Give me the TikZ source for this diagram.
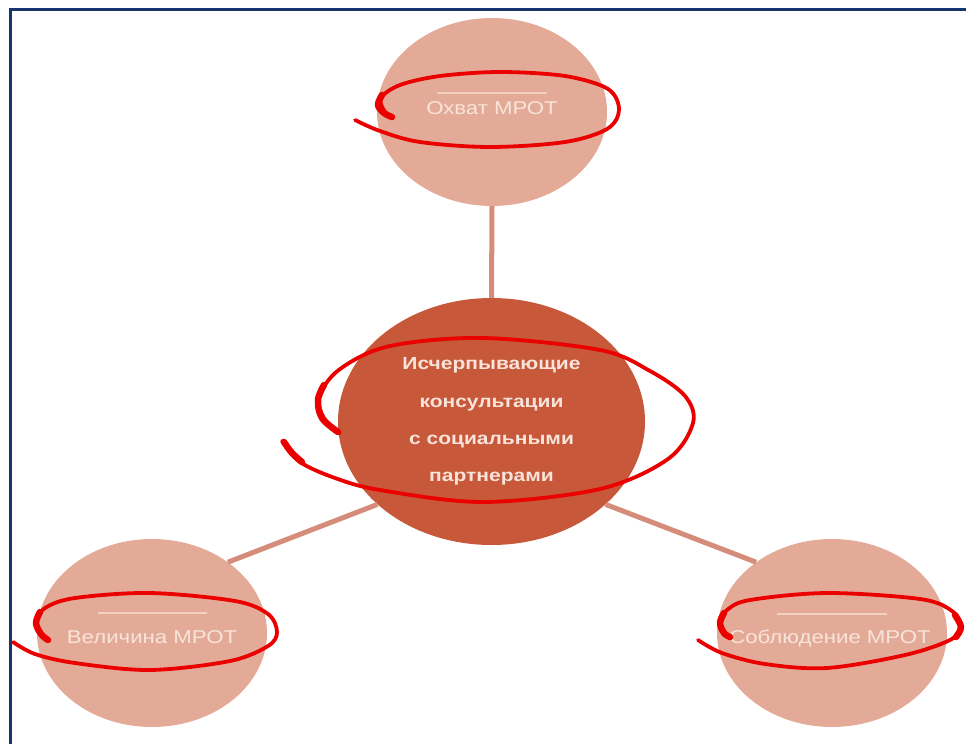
\documentclass[tikz,border=0pt]{standalone}
\usepackage{fontspec}
\setmainfont{Liberation Sans}
\usetikzlibrary{shapes.geometric}
\definecolor{outerfill}{RGB}{228,170,152}
\definecolor{centerfill}{RGB}{200,88,58}
\definecolor{connc}{RGB}{214,140,122}
\definecolor{frameblue}{RGB}{24,52,112}
\definecolor{txtlight}{RGB}{248,228,218}
\definecolor{sepc}{RGB}{242,208,194}
\definecolor{markred}{RGB}{235,0,0}
\newcommand{\widetxt}[1]{\scalebox{1.2}[1]{#1}}
\begin{document}
\begin{tikzpicture}[x=1pt,y=-1pt,
  outer/.style={ellipse, fill=outerfill, minimum width=230pt, minimum height=188pt, inner sep=0pt},
  hub/.style={ellipse, fill=centerfill, minimum width=307pt, minimum height=247pt, inner sep=0pt,
    text=txtlight, font=\fontsize{17.5}{37.3}\selectfont\bfseries, align=center},
  otext/.style={text=txtlight, font=\fontsize{18.5}{22}\selectfont, inner sep=0pt, anchor=base},
  conn/.style={draw=connc, line width=5pt},
  sepline/.style={draw=sepc, line width=1.5pt},
  redmark/.style={draw=markred, line width=3.8pt, line cap=round, line join=round},
  redhook/.style={draw=markred, line width=6.5pt, line cap=round, line join=round}
]
\useasboundingbox (0,0) rectangle (966,744);
\fill[white] (0,0) rectangle (966,744);
\draw[frameblue, line width=3pt] (10.5,744) -- (10.5,9) -- (966,9);

\node[outer] (t) at (492,112) {};
\node[outer] (l) at (152,633) {};
\node[outer] (r) at (832,633) {};
\node[hub] (c) at (491.5,421.5) {\widetxt{Исчерпывающие}\\ \widetxt{консультации}\\ \widetxt{с социальными}\\ \widetxt{партнерами}};

\draw[conn] (t.south) -- (c.north);
\draw[conn] (c.216) -- (l.43);
\draw[conn] (c.324) -- (r.137);

\draw[sepline] (437,93) -- (547,93);
\draw[sepline] (98,613) -- (207,613);
\draw[sepline] (777,614) -- (887,614);

\node[otext] (tt) at (492,114.5) {\widetxt{Охват МРОТ}};
\node[otext] (lt) at (152,643.5) {\widetxt{Величина МРОТ}};
\node[otext] (rt) at (830,643.5) {\widetxt{Соблюдение МРОТ}};

% top
\draw[redmark] plot[smooth, tension=0.55] coordinates {(355,120) (380,131) (420,142) (490,147) (565,142) (607,129) (619,110) (608,89) (565,76) (500,72) (440,76) (400,85) (381,98) (385,112) (393,117)};
\draw[redhook] plot[smooth, tension=0.6] coordinates {(382,95) (378,105) (384,113) (392,117)};
% centre
\draw[redmark] plot[smooth, tension=0.55] coordinates {(282,441) (300,462) (335,478) (380,490) (483,502) (600,489) (668,459) (693,423) (685,396) (650,371) (600,350) (483,338) (390,346) (340,369) (319,397) (325,420) (340,433)};
\draw[redhook] plot[smooth, tension=0.6] coordinates {(324,385) (318,400) (322,418) (338,432)};
\draw[redhook] plot[smooth, tension=0.6] coordinates {(284,442) (292,453) (302,462)};
% left
\draw[redmark] plot[smooth, tension=0.55] coordinates {(13,642) (35,654) (75,663) (150,670) (230,661) (268,646) (277,632) (268,614) (235,601) (150,593) (75,598) (45,608) (36,622) (41,634) (48,640)};
\draw[redhook] plot[smooth, tension=0.6] coordinates {(40,612) (36,623) (41,634) (48,640)};
% right
\draw[redmark] plot[smooth, tension=0.55] coordinates {(698,640) (722,653) (765,664) (827,668) (905,655) (950,640) (960,627) (952,611) (920,599) (827,593) (750,600) (727,610) (720,622) (724,632) (730,637)};
\draw[redhook] plot[smooth, tension=0.6] coordinates {(724,613) (720,623) (724,633) (730,637)};
\draw[redhook] plot[smooth, tension=0.6] coordinates {(955,615) (961,627) (956,637)};
\end{tikzpicture}
\end{document}
